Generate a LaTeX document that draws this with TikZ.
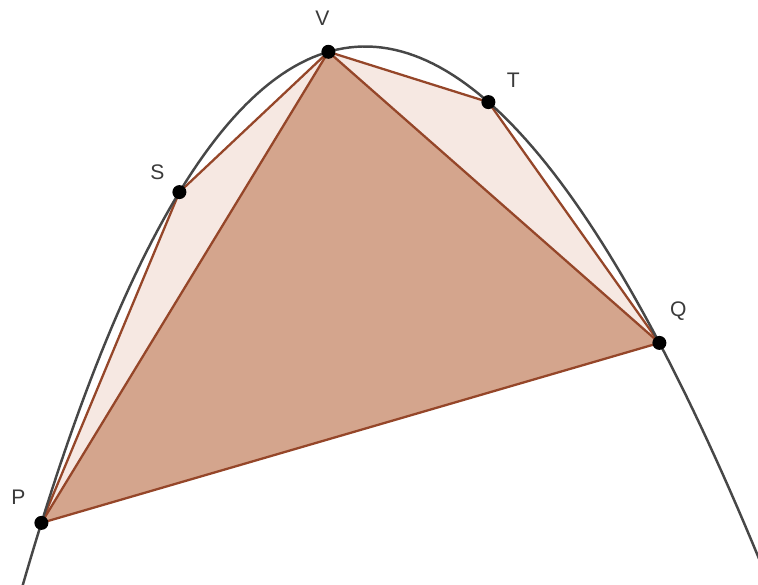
\documentclass[tikz,border=0pt]{standalone}
\usepackage{fontspec}
\setmainfont{Liberation Sans}
\usetikzlibrary{calc}
\definecolor{CURVE}{HTML}{474747}
\definecolor{EDGE}{HTML}{954629}
\definecolor{BIG}{HTML}{D4A58D}
\definecolor{SMALL}{HTML}{F6E8E2}
\definecolor{LBL}{HTML}{3A3A3A}

\begin{document}
\begin{tikzpicture}[x=0.02cm,y=-0.02cm]
\tikzset{curve/.style={line width=1.4pt,CURVE},edge/.style={line width=1.3pt,EDGE,line join=round},
 pt/.style={circle,fill=black,inner sep=0pt,minimum size=0.28cm},lbl/.style={text=LBL,font=\fontsize{12}{14}\selectfont}}
\useasboundingbox (0,0) rectangle (758,585);
% points on the parabola, t=-1,-1/2,0,1/2,1
\coordinate (P) at (41.4,522.9);
\coordinate (S) at (179.4,192.1);
\coordinate (V) at (328.4,51.8);
\coordinate (T) at (488.4,102.1);
\coordinate (Q) at (659.4,342.9);
\fill[SMALL] (P) -- (S) -- (V) -- cycle;
\fill[SMALL] (V) -- (T) -- (Q) -- cycle;
\draw[edge,fill=BIG] (P) -- (V) -- (Q) -- cycle;
\draw[edge] (P) -- (S) -- (V) -- (T) -- (Q);
\begin{scope}
\clip (0,0) rectangle (758,585);
\draw[curve,domain=-1.08:1.32,samples=120,variable=\t] plot ({328.4+309*\t+22*\t*\t},{51.8-90*\t+381.1*\t*\t});
\end{scope}
\foreach \p in {P,S,V,T,Q} \node[pt] (d\p) at (\p) {};
\node[lbl] (lP) at ($(P)+(-23,-26)$) {P};
\node[lbl] (lS) at ($(S)+(-22,-20)$) {S};
\node[lbl] (lV) at ($(V)+(-6,-34)$) {V};
\node[lbl] (lT) at ($(T)+(25,-22)$) {T};
\node[lbl] (lQ) at ($(Q)+(19,-32)$) {Q};
\end{tikzpicture}
\end{document}
